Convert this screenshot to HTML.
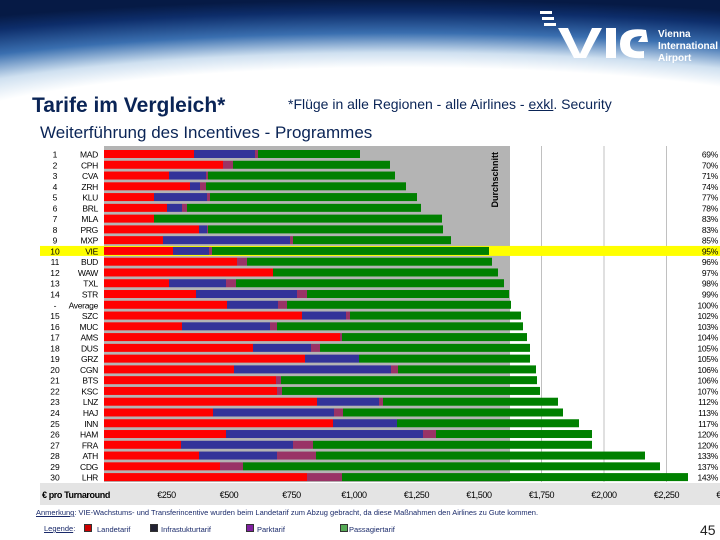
<!DOCTYPE html>
<html><head><meta charset="utf-8">
<style>
body{margin:0;width:720px;height:540px;overflow:hidden;background:#fff;font-family:"Liberation Sans",sans-serif;position:relative}
#hdr{position:absolute;left:0;top:0;width:720px;height:140px;background:radial-gradient(ellipse 900px 150px at 400px 150px,#fff 55%,#cfe0f0 65%,#3a6fb0 78%,#0d2d6a 92%,#061a45 100%)}
.t{position:absolute;white-space:nowrap}
</style></head><body>
<div id="hdr"></div>
<svg style="position:absolute;left:520px;top:8px" width="200" height="60">
<g fill="#fff"><rect x="20" y="3" width="12" height="3"/><rect x="22" y="9" width="12" height="3"/><rect x="24" y="15" width="12" height="3"/>
<polygon points="38,20 48,20 60,46 72,20 82,20 66,50 54,50"/><rect x="86" y="20" width="10" height="30"/>
<path d="M126 22 Q100 18 100 36 Q100 52 124 50 L124 43 Q110 45 110 36 Q110 28 122 28 L118 34 L128 34 Z"/></g>
<text x="138" y="29" fill="#fff" font-size="10" font-weight="bold" font-family="Liberation Sans">Vienna</text>
<text x="138" y="41" fill="#fff" font-size="10" font-weight="bold" font-family="Liberation Sans">International</text>
<text x="138" y="53" fill="#fff" font-size="10" font-weight="bold" font-family="Liberation Sans">Airport</text>
</svg>
<div class="t" style="left:32px;top:94px;font-size:21px;font-weight:bold;color:#0a2456">Tarife im Vergleich*</div>
<div class="t" style="left:288px;top:96px;font-size:14px;color:#0a2456">*Flüge in alle Regionen - alle Airlines - <u>exkl</u>. Security</div>
<div class="t" style="left:40px;top:123px;font-size:17px;color:#0a2456">Weiterführung des Incentives - Programmes</div>
<svg id="chart" style="position:absolute;left:0;top:0" width="720" height="540"></svg>
<div class="t" style="left:36px;top:508px;font-size:7.5px;color:#1a2a6a"><u>Anmerkung</u>: VIE-Wachstums- und Transferincentive wurden beim Landetarif zum Abzug gebracht, da diese Maßnahmen den Airlines zu Gute kommen.</div>
<div class="t" style="left:44px;top:524px;font-size:7.5px;color:#1a2a6a">
<span style="position:absolute;left:0"><u>Legende</u>:</span>
<span style="position:absolute;left:40px"><span style="display:inline-block;width:6px;height:6px;background:#c00;border:1px solid #333;margin-right:5px"></span>Landetarif</span>
<span style="position:absolute;left:106px"><span style="display:inline-block;width:6px;height:6px;background:#223;border:1px solid #333;margin-right:3px"></span>Infrastukturtarif</span>
<span style="position:absolute;left:202px"><span style="display:inline-block;width:6px;height:6px;background:#8020a0;border:1px solid #333;margin-right:3px"></span>Parktarif</span>
<span style="position:absolute;left:296px"><span style="display:inline-block;width:6px;height:6px;background:#5a5;border:1px solid #333;margin-right:1px"></span>Passagiertarif</span>
</div>
<div class="t" style="left:700px;top:522px;font-size:14px;color:#222">45</div>
<script>
const ranks=["1","2","3","4","5","6","7","8","9","10","11","12","13","14","-","15","16","17","18","19","20","21","22","23","24","25","26","27","28","29","30"];
const airports=["MAD","CPH","CVA","ZRH","KLU","BRL","MLA","PRG","MXP","VIE","BUD","WAW","TXL","STR","Average","SZC","MUC","AMS","DUS","GRZ","CGN","BTS","KSC","LNZ","HAJ","INN","HAM","FRA","ATH","CDG","LHR"];
const landetarif=[360,476,260,344,200,252,200,380,236,276,532,676,260,368,492,792,312,944,596,804,520,688,692,852,436,916,488,308,380,464,812];
const infrastruktur=[244,0,148,40,212,60,0,32,508,144,0,0,228,404,204,176,352,0,232,216,628,0,0,248,484,256,788,448,312,0,0];
const parktarif=[12,40,8,24,12,20,0,4,12,12,40,0,40,40,36,16,28,8,36,0,28,20,20,16,36,0,52,80,156,92,140];
const passagier=[408,628,748,800,828,936,1152,940,632,1108,980,900,1072,808,896,684,984,740,840,684,552,1024,1032,700,880,728,624,1116,1316,1668,1384];
const percents=["69%","70%","71%","74%","77%","78%","83%","83%","85%","95%","96%","97%","98%","99%","100%","102%","103%","104%","105%","105%","106%","106%","107%","112%","113%","117%","120%","120%","133%","137%","143%"];
const tickValues=[250,500,750,1000,1250,1500,1750,2000,2250,2500];
const tickLabels=["€250","€500","€750","€1,000","€1,250","€1,500","€1,750","€2,000","€2,250","€2,500"];
const averageValue=1624;
const highlightIndex=9;
const NS="http://www.w3.org/2000/svg";
const svg=document.getElementById('chart');
const x0=104,k=0.25;
const X=v=>x0+v*k;
const Y=i=>154+i*10.77;
function mk(t,a,p){const e=document.createElementNS(NS,t);for(const q in a)e.setAttribute(q,a[q]);(p||svg).appendChild(e);return e;}
// avg region
let e=mk('rect',{x:x0,y:146,width:X(averageValue)-x0,height:336,fill:'#b4b4b4'});


e=mk('text',{x:0,y:0,'font-size':9,'font-weight':'bold',fill:'#000',transform:`translate(${X(averageValue)-12},${152}) rotate(-90)`,'text-anchor':'end','font-family':'Liberation Sans'});
e.textContent='Durchschnitt';


// gridlines
tickValues.forEach(v=>{if(X(v)>X(averageValue)){const g=mk('line',{x1:X(v),x2:X(v),y1:146,y2:482,stroke:'#c0c0c0','stroke-width':1});

}});
// highlight
e=mk('rect',{x:40,y:Y(highlightIndex)-5,width:680,height:10,fill:'#ffff00'});


const cols=['#ff0000','#333399','#993366','#008000'];
const series=[landetarif,infrastruktur,parktarif,passagier];
const names=['landetarif','infrastruktur','parktarif','passagiertarif'];
airports.forEach((a,i)=>{
  let acc=0;
  series.forEach((s,j)=>{const v=s[i];if(v>0){const r=mk('rect',{x:X(acc),y:Y(i)-4,width:v*k,height:8,fill:cols[j]});
  
  }acc+=v;});
  let t=mk('text',{x:55,y:Y(i)+3.5,'font-size':8.5,'text-anchor':'middle','font-family':'Liberation Sans'});t.textContent=ranks[i];
  
  
  t=mk('text',{x:98,y:Y(i)+3.5,'font-size':8.5,'text-anchor':'end','font-family':'Liberation Sans','letter-spacing':'-0.3'});t.textContent=a;
  
  
  t=mk('text',{x:718,y:Y(i)+3.5,'font-size':8.5,'text-anchor':'end','font-family':'Liberation Sans','letter-spacing':'-0.3'});t.textContent=percents[i];
  
  
});
// axis band
e=mk('rect',{x:40,y:483,width:680,height:22,fill:'#e4e4e4'});


e=mk('text',{x:42,y:498,'font-size':9,'font-weight':'bold','font-family':'Liberation Sans','letter-spacing':'-0.4'});e.textContent='€ pro Turnaround';


tickValues.forEach((v,i)=>{const t=mk('text',{x:X(v),y:498,'font-size':9,'text-anchor':'middle','font-family':'Liberation Sans','letter-spacing':'-0.4'});t.textContent=tickLabels[i];

});
</script>
</body></html>
